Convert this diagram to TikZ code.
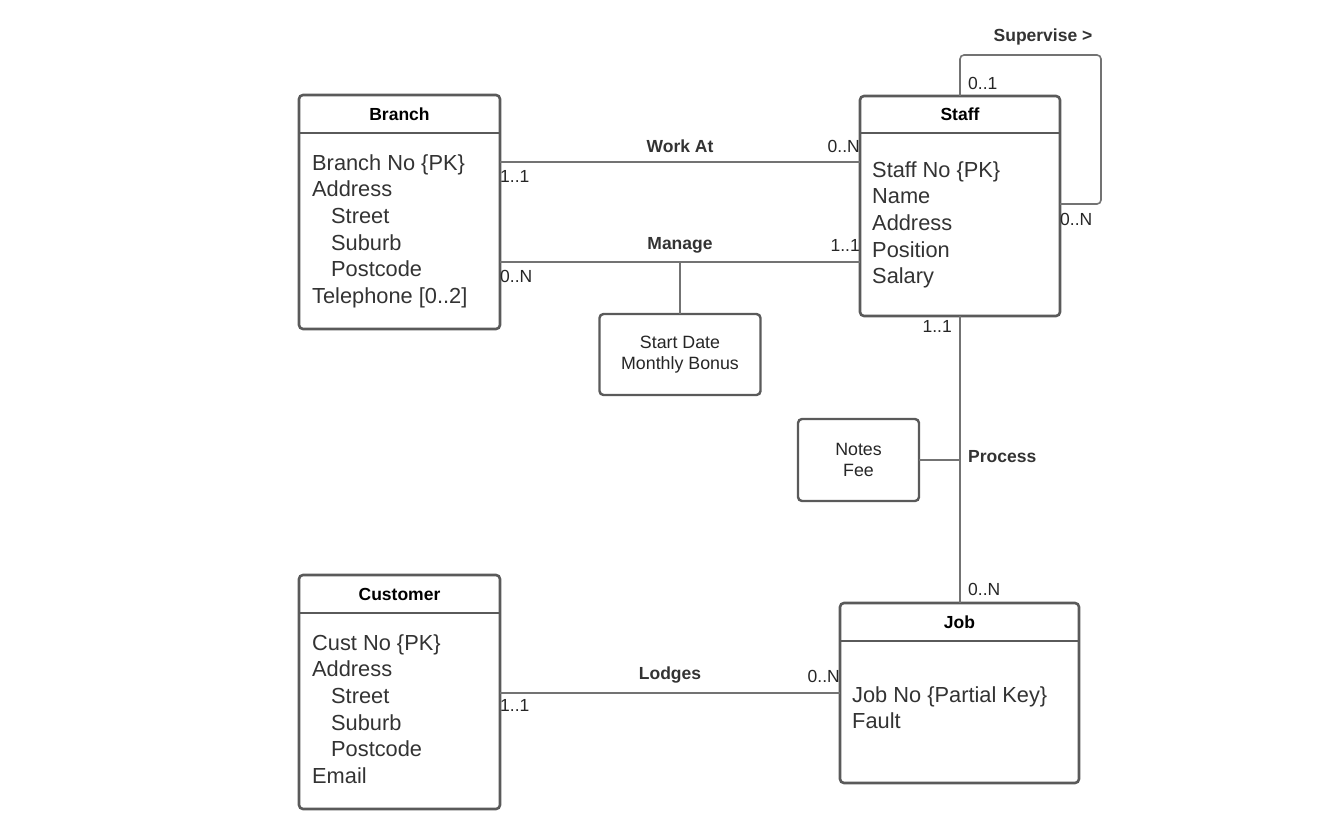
\documentclass[tikz,border=0pt]{standalone}
\usepackage{fontspec}
\setmainfont{Liberation Sans}
\usetikzlibrary{calc}
\definecolor{bordergray}{HTML}{5A5A5A}
\definecolor{linegray}{HTML}{737373}
\definecolor{textgray}{HTML}{333333}
\begin{document}
\begin{tikzpicture}[x=1pt,y=-1pt,
  entity/.style={draw=bordergray, line width=2.6pt, rounded corners=4pt, rectangle,
    inner sep=0pt, outer sep=0pt, anchor=north west, fill=white},
  divider/.style={draw=bordergray, line width=2.6pt},
  hdr/.style={font=\fontsize{17.5}{21}\selectfont\bfseries, text=black, inner sep=0pt},
  attrs/.style={font=\fontsize{21.8}{26.6}\selectfont, text=textgray, inner sep=0pt,
    anchor=north west, align=left},
  rel/.style={font=\fontsize{17.5}{21}\selectfont\bfseries, text=textgray, inner sep=0pt},
  card/.style={font=\fontsize{17.5}{21}\selectfont, text=black!85, inner sep=0pt},
  conn/.style={draw=linegray, line width=1.6pt},
  attbox/.style={draw=bordergray, line width=2.4pt, rounded corners=4pt, inner sep=0pt,
    outer sep=0pt, align=center, fill=white,
    font=\fontsize{17.8}{21}\selectfont, text=black!85}
]
\useasboundingbox (0,0) rectangle (1332,832);

% coordinates for connectors
\coordinate (wa) at (0,162);
\coordinate (mg) at (0,262);
\coordinate (mgm) at (680,262);
\coordinate (pr) at (960,0);
\coordinate (lg) at (0,693);
\coordinate (sv2) at (1101,55);
\coordinate (sv3) at (1101,204);

% entities
\node[entity, minimum width=201pt, minimum height=234pt] (branch) at (299,95) {};
\node[entity, minimum width=200pt, minimum height=220pt] (staff) at (860,96) {};
\node[entity, minimum width=201pt, minimum height=234pt] (customer) at (299,575) {};
\node[entity, minimum width=239pt, minimum height=180pt] (job) at (840,603) {};

% attribute boxes
\node[attbox, minimum width=161pt, minimum height=81pt] (sd) at (680,354.5)
  {Start Date\\Monthly Bonus};
\node[attbox, minimum width=121pt, minimum height=82pt] (notes) at (858.5,460)
  {Notes\\Fee};

% connectors
\draw[conn] (branch.east |- wa) -- (staff.west |- wa);
\draw[conn] (branch.east |- mg) -- (staff.west |- mg);
\draw[conn] (mgm) -- (sd.north);
\draw[conn] (staff.south -| pr) -- (job.north -| pr);
\draw[conn] (notes.east) -- (notes.east -| pr);
\draw[conn] (customer.east |- lg) -- (job.west |- lg);
\draw[conn, rounded corners=4pt] (staff.north) -- (staff.north |- sv2) -- (sv2) -- (sv3) -- (staff.east |- sv3);

% header dividers
\draw[divider] (299,133) -- (500,133);
\draw[divider] (860,133) -- (1060,133);
\draw[divider] (299,613) -- (500,613);
\draw[divider] (840,641) -- (1079,641);

% headers
\node[hdr] (hb) at (399.5,114) {Branch};
\node[hdr] (hs) at (960,114.5) {Staff};
\node[hdr] (hc) at (399.5,594) {Customer};
\node[hdr] (hj) at (959.5,622) {Job};

% attributes
\node[attrs] (ab) at (312,151.4) {\strut Branch No \{PK\}\\Address\\\hspace*{19pt}Street\\\hspace*{19pt}Suburb\\\hspace*{19pt}Postcode\\Telephone [0..2]};
\node[attrs] (as) at (872,158.4) {\strut Staff No \{PK\}\\Name\\Address\\Position\\Salary};
\node[attrs] (ac) at (312,631.4) {\strut Cust No \{PK\}\\Address\\\hspace*{19pt}Street\\\hspace*{19pt}Suburb\\\hspace*{19pt}Postcode\\Email};
\node[attrs] (aj) at (852,683.4) {\strut Job No \{Partial Key\}\\Fault};

% relationship labels
\node[rel] (lwa) at (680,146) {Work At};
\node[rel] (lmg) at (680,245) {Manage};
\node[rel, anchor=west] (lpr) at (968,457) {Process};
\node[rel] (llg) at (670,675) {Lodges};
\node[rel] (lsv) at (1043,37) {Supervise >};

% cardinalities
\node[card, anchor=east] (c1) at (860,146) {0..N};
\node[card, anchor=west] (c2) at (500,176) {1..1};
\node[card, anchor=east] (c3) at (860,245) {1..1};
\node[card, anchor=west] (c4) at (500,276) {0..N};
\node[card, anchor=east] (c5) at (952,326) {1..1};
\node[card, anchor=west] (c6) at (968,589) {0..N};
\node[card, anchor=east] (c7) at (840,676) {0..N};
\node[card, anchor=west] (c8) at (500,705) {1..1};
\node[card, anchor=west] (c9) at (968,83) {0..1};
\node[card, anchor=west] (c10) at (1060,219) {0..N};
\end{tikzpicture}
\end{document}
